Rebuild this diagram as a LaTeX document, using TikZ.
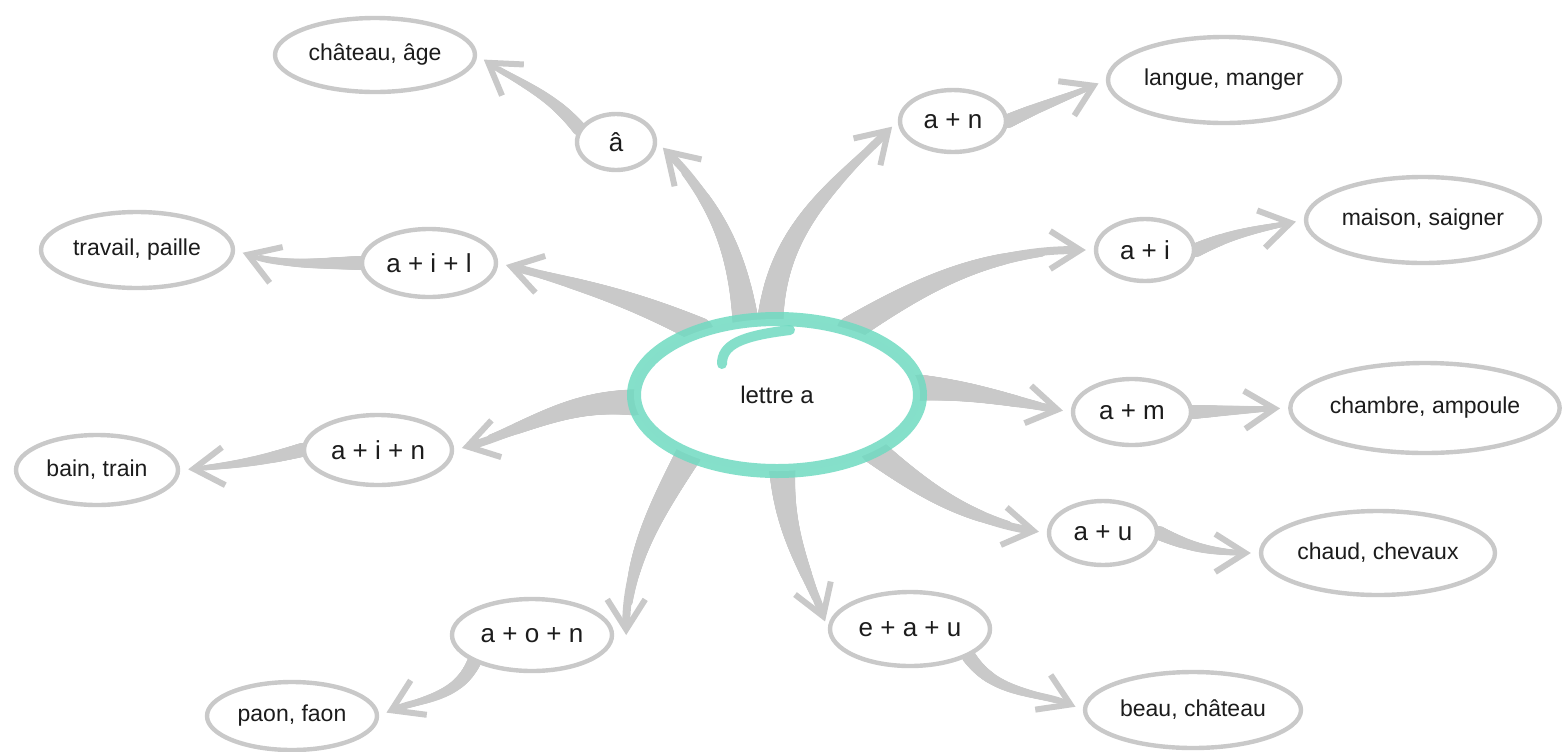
\documentclass[tikz,border=0pt]{standalone}
\usepackage{fontspec}
\setmainfont{Liberation Sans}
\usetikzlibrary{shapes.geometric,arrows.meta,decorations.markings}

\definecolor{linegray}{RGB}{201,201,201}
\definecolor{mint}{RGB}{112,218,193}
\definecolor{ink}{RGB}{28,28,28}

\pgfdeclarelayer{bg}
\pgfsetlayers{bg,main}

\begin{document}
\begin{tikzpicture}[x=0.5pt,y=0.5pt]
	\tikzstyle{bubble}=[ellipse, draw=linegray, line width=2.2pt, fill=white, inner sep=0pt, text=ink]
	\tikzstyle{leaf}=[bubble, font=\fontsize{11.5}{13}\selectfont]
	\tikzstyle{sound}=[bubble, font=\fontsize{13}{15}\selectfont]
	\tikzset{
		taper/.style 2 args={postaction={decorate, decoration={markings,
			mark=between positions 0 and 0.8 step 0.5pt with {%
				\pgfmathsetmacro\brushr{(#1-(#1-#2)*\pgfkeysvalueof{/pgf/decoration/mark info/distance from start}/(0.8*\pgfdecoratedpathlength))/2}%
				\fill[linegray] (0,0) circle (\brushr pt);}}}},
		link/.style={draw=linegray, line width=#1, line cap=round, shorten >=4pt,
			-{Straight Barb[length=15pt, width=19pt, line width=3pt]}},
		bigarrow/.style={link=4pt, taper={13pt}{4pt}},
		smallarrow/.style={link=2.6pt, taper={7pt}{2.6pt}}
	}
	\useasboundingbox (0,0) rectangle (1565,-751);

	\node[ellipse, draw=mint, draw opacity=0.85, fill=white, line width=7pt, minimum width=143pt, minimum height=76pt,
		outer sep=0pt, inner sep=0pt, text=ink, font=\fontsize{12}{14}\selectfont] (centre) at (777,-395) {lettre a};
	\draw[mint, opacity=0.85, line width=5pt, line cap=round] (722,-364) .. controls (722,-345) and (740,-336) .. (790,-330);

	\node[sound, minimum width=39pt, minimum height=28pt] (acirc) at (616,-142) {â};
	\node[leaf, minimum width=100pt, minimum height=37pt] (chateau) at (375,-55) {château, âge};
	\node[sound, minimum width=53pt, minimum height=31pt] (an) at (953,-121) {a + n};
	\node[leaf, minimum width=116pt, minimum height=43pt] (langue) at (1224,-80) {langue, manger};
	\node[sound, minimum width=67pt, minimum height=34pt] (ail) at (429,-263) {a + i + l};
	\node[leaf, minimum width=96pt, minimum height=38pt] (travail) at (137,-250) {travail, paille};
	\node[sound, minimum width=49pt, minimum height=31pt] (ai) at (1145,-250) {a + i};
	\node[leaf, minimum width=117pt, minimum height=43pt] (maison) at (1423,-220) {maison, saigner};
	\node[sound, minimum width=59pt, minimum height=33pt] (am) at (1132,-412) {a + m};
	\node[leaf, minimum width=128pt, minimum height=45pt] (chambre) at (1425,-408) {chambre, ampoule};
	\node[sound, minimum width=74pt, minimum height=35pt] (ain) at (378,-450) {a + i + n};
	\node[leaf, minimum width=81pt, minimum height=35pt] (bain) at (97,-470) {bain, train};
	\node[sound, minimum width=54pt, minimum height=32pt] (au) at (1103,-533) {a + u};
	\node[leaf, minimum width=117pt, minimum height=42pt] (chaud) at (1378,-553) {chaud, chevaux};
	\node[sound, minimum width=80pt, minimum height=36pt] (aon) at (532,-635) {a + o + n};
	\node[leaf, minimum width=85pt, minimum height=34pt] (paon) at (292,-716) {paon, faon};
	\node[sound, minimum width=80pt, minimum height=37pt] (eau) at (910,-629) {e + a + u};
	\node[leaf, minimum width=108pt, minimum height=38pt] (beau) at (1193,-710) {beau, château};

	\begin{pgfonlayer}{bg}
	\draw[bigarrow] (centre.113) to[out=97, in=-45] (acirc.east);
	\draw[smallarrow] (acirc.160) to[out=130, in=-35] (chateau.east);
	\draw[bigarrow] (centre.95) to[out=85, in=-135] (an.west);
	\draw[smallarrow] (an.east) to[out=25, in=-155] (langue.west);
	\draw[bigarrow] (centre.140) to[out=155, in=-15] (ail.east);
	\draw[smallarrow] (ail.west) to[out=180, in=-20] (travail.east);
	\draw[bigarrow] (centre.42) to[out=32, in=180] (ai.west);
	\draw[smallarrow] (ai.east) to[out=25, in=-168] (maison.west);
	\draw[bigarrow] (centre.183) to[out=178, in=15] (ain.east);
	\draw[smallarrow] (ain.west) to[out=195, in=5] (bain.east);
	\draw[bigarrow] (centre.3) to[out=-3, in=170] (am.west);
	\draw[smallarrow] (am.east) -- (chambre.west);
	\draw[bigarrow] (centre.330) to[out=-38, in=171] (au.west);
	\draw[smallarrow] (au.east) to[out=-25, in=180] (chaud.west);
	\draw[bigarrow] (centre.214) to[out=240, in=90] ([xshift=6pt,yshift=-4pt]aon.east);
	\draw[smallarrow] (aon.205) to[out=245, in=25] (paon.east);
	\draw[bigarrow] (centre.274) to[out=-88, in=110] (eau.west);
	\draw[smallarrow] (eau.-25) to[out=-55, in=156] (beau.west);
	\end{pgfonlayer}
\end{tikzpicture}
\end{document}
